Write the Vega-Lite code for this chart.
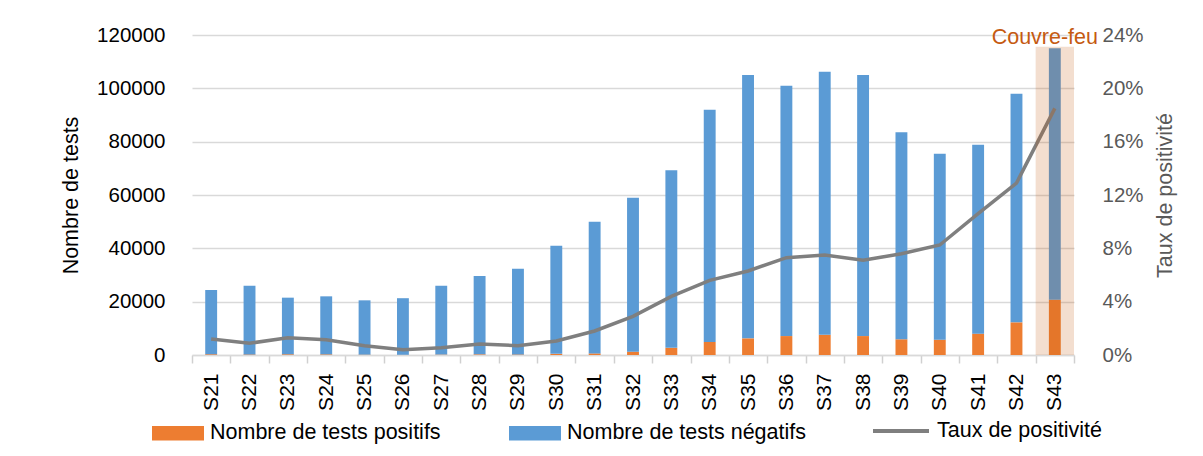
{
  "$schema": "https://vega.github.io/schema/vega-lite/v6.json",
  "autosize": {"type": "none"},
  "width": 882,
  "height": 320,
  "padding": {"left": 192, "top": 35, "right": 129, "bottom": 101},
  "background": "white",
  "config": {
    "view": {"stroke": null},
    "font": "Liberation Sans",
    "axis": {"labelFont": "Liberation Sans", "titleFont": "Liberation Sans", "titleFontWeight": "normal"},
    "legend": {"labelFont": "Liberation Sans"}
  },
  "datasets": {
    "tests": [
      {"semaine": "S21", "serie": "Nombre de tests positifs", "n": 290},
      {"semaine": "S21", "serie": "Nombre de tests négatifs", "n": 24110},
      {"semaine": "S22", "serie": "Nombre de tests positifs", "n": 230},
      {"semaine": "S22", "serie": "Nombre de tests négatifs", "n": 25770},
      {"semaine": "S23", "serie": "Nombre de tests positifs", "n": 280},
      {"semaine": "S23", "serie": "Nombre de tests négatifs", "n": 21220},
      {"semaine": "S24", "serie": "Nombre de tests positifs", "n": 250},
      {"semaine": "S24", "serie": "Nombre de tests négatifs", "n": 21750},
      {"semaine": "S25", "serie": "Nombre de tests positifs", "n": 145},
      {"semaine": "S25", "serie": "Nombre de tests négatifs", "n": 20355},
      {"semaine": "S26", "serie": "Nombre de tests positifs", "n": 85},
      {"semaine": "S26", "serie": "Nombre de tests négatifs", "n": 21215},
      {"semaine": "S27", "serie": "Nombre de tests positifs", "n": 145},
      {"semaine": "S27", "serie": "Nombre de tests négatifs", "n": 25855},
      {"semaine": "S28", "serie": "Nombre de tests positifs", "n": 245},
      {"semaine": "S28", "serie": "Nombre de tests négatifs", "n": 29355},
      {"semaine": "S29", "serie": "Nombre de tests positifs", "n": 225},
      {"semaine": "S29", "serie": "Nombre de tests négatifs", "n": 32075},
      {"semaine": "S30", "serie": "Nombre de tests positifs", "n": 430},
      {"semaine": "S30", "serie": "Nombre de tests négatifs", "n": 40570},
      {"semaine": "S31", "serie": "Nombre de tests positifs", "n": 600},
      {"semaine": "S31", "serie": "Nombre de tests négatifs", "n": 49400},
      {"semaine": "S32", "serie": "Nombre de tests positifs", "n": 1250},
      {"semaine": "S32", "serie": "Nombre de tests négatifs", "n": 57750},
      {"semaine": "S33", "serie": "Nombre de tests positifs", "n": 2700},
      {"semaine": "S33", "serie": "Nombre de tests négatifs", "n": 66600},
      {"semaine": "S34", "serie": "Nombre de tests positifs", "n": 4900},
      {"semaine": "S34", "serie": "Nombre de tests négatifs", "n": 87100},
      {"semaine": "S35", "serie": "Nombre de tests positifs", "n": 6250},
      {"semaine": "S35", "serie": "Nombre de tests négatifs", "n": 98750},
      {"semaine": "S36", "serie": "Nombre de tests positifs", "n": 7100},
      {"semaine": "S36", "serie": "Nombre de tests négatifs", "n": 93900},
      {"semaine": "S37", "serie": "Nombre de tests positifs", "n": 7600},
      {"semaine": "S37", "serie": "Nombre de tests négatifs", "n": 98600},
      {"semaine": "S38", "serie": "Nombre de tests positifs", "n": 7100},
      {"semaine": "S38", "serie": "Nombre de tests négatifs", "n": 97900},
      {"semaine": "S39", "serie": "Nombre de tests positifs", "n": 5900},
      {"semaine": "S39", "serie": "Nombre de tests négatifs", "n": 77600},
      {"semaine": "S40", "serie": "Nombre de tests positifs", "n": 5750},
      {"semaine": "S40", "serie": "Nombre de tests négatifs", "n": 69750},
      {"semaine": "S41", "serie": "Nombre de tests positifs", "n": 8000},
      {"semaine": "S41", "serie": "Nombre de tests négatifs", "n": 70800},
      {"semaine": "S42", "serie": "Nombre de tests positifs", "n": 12250},
      {"semaine": "S42", "serie": "Nombre de tests négatifs", "n": 85750},
      {"semaine": "S43", "serie": "Nombre de tests positifs", "n": 20750},
      {"semaine": "S43", "serie": "Nombre de tests négatifs", "n": 94250}
    ],
    "taux": [
      {"semaine": "S21", "serie": "Taux de positivité", "taux": 0.012},
      {"semaine": "S22", "serie": "Taux de positivité", "taux": 0.0088},
      {"semaine": "S23", "serie": "Taux de positivité", "taux": 0.013},
      {"semaine": "S24", "serie": "Taux de positivité", "taux": 0.0115},
      {"semaine": "S25", "serie": "Taux de positivité", "taux": 0.007},
      {"semaine": "S26", "serie": "Taux de positivité", "taux": 0.004},
      {"semaine": "S27", "serie": "Taux de positivité", "taux": 0.0055},
      {"semaine": "S28", "serie": "Taux de positivité", "taux": 0.0083},
      {"semaine": "S29", "serie": "Taux de positivité", "taux": 0.007},
      {"semaine": "S30", "serie": "Taux de positivité", "taux": 0.0105},
      {"semaine": "S31", "serie": "Taux de positivité", "taux": 0.018},
      {"semaine": "S32", "serie": "Taux de positivité", "taux": 0.029},
      {"semaine": "S33", "serie": "Taux de positivité", "taux": 0.044},
      {"semaine": "S34", "serie": "Taux de positivité", "taux": 0.056},
      {"semaine": "S35", "serie": "Taux de positivité", "taux": 0.063},
      {"semaine": "S36", "serie": "Taux de positivité", "taux": 0.073},
      {"semaine": "S37", "serie": "Taux de positivité", "taux": 0.075},
      {"semaine": "S38", "serie": "Taux de positivité", "taux": 0.071},
      {"semaine": "S39", "serie": "Taux de positivité", "taux": 0.076},
      {"semaine": "S40", "serie": "Taux de positivité", "taux": 0.0825},
      {"semaine": "S41", "serie": "Taux de positivité", "taux": 0.106},
      {"semaine": "S42", "serie": "Taux de positivité", "taux": 0.129},
      {"semaine": "S43", "serie": "Taux de positivité", "taux": 0.185}
    ],
    "couvrefeu": [
      {"semaine": "S43", "debut": 0, "fin": 115600, "texte": 118900, "label": "Couvre-feu"}
    ]
  },
  "encoding": {
    "x": {
      "field": "semaine",
      "type": "nominal",
      "sort": "ascending",
      "scale": {"paddingInner": 0, "paddingOuter": 0},
      "axis": {
        "title": null,
        "tickBand": "extent",
        "labelAngle": -90,
        "labelFontSize": 21,
        "labelColor": "#000000",
        "labelPadding": 10,
        "ticks": true,
        "tickSize": 8,
        "tickColor": "#D0D0D0",
        "tickWidth": 1.5,
        "domainColor": "#D9D9D9",
        "domainWidth": 1.5,
        "grid": false
      }
    }
  },
  "layer": [
    {
      "data": {"name": "tests"},
      "mark": {"type": "bar", "width": {"band": 0.31}},
      "encoding": {
        "y": {
          "field": "n",
          "type": "quantitative",
          "stack": "zero",
          "scale": {"domain": [0, 120000], "nice": false},
          "axis": {
            "title": "Nombre de tests",
            "titleFontSize": 21.5,
            "titleColor": "#000000",
            "titlePadding": 14,
            "values": [0, 20000, 40000, 60000, 80000, 100000, 120000],
            "format": "d",
            "labelFontSize": 20.5,
            "labelColor": "#000000",
            "labelPadding": 27,
            "ticks": false,
            "domain": false,
            "grid": true,
            "gridColor": "#D9D9D9",
            "gridWidth": 1.5
          }
        },
        "color": {
          "field": "serie",
          "type": "nominal",
          "sort": ["Nombre de tests positifs", "Nombre de tests négatifs"],
          "scale": {"domain": ["Nombre de tests positifs", "Nombre de tests négatifs"], "range": ["#ED7D31", "#5B9BD5"]},
          "legend": {
            "title": null,
            "orient": "none",
            "direction": "horizontal",
            "legendX": -40,
            "legendY": 372,
            "padding": 0,
            "symbolType": "M-1,-0.275H1V0.275H-1Z",
            "symbolSize": 2704,
            "symbolStrokeWidth": 0,
            "symbolOpacity": 1,
            "labelFontSize": 21.5,
            "labelLimit": 500,
            "labelColor": "#000000",
            "labelOffset": 6,
            "columnPadding": 68
          }
        }
      }
    },
    {
      "data": {"name": "taux"},
      "mark": {"type": "line", "strokeWidth": 3.5},
      "encoding": {
        "y": {
          "field": "taux",
          "type": "quantitative",
          "scale": {"domain": [0, 0.24], "nice": false},
          "axis": {
            "orient": "right",
            "title": "Taux de positivité",
            "titleAngle": 270,
            "titleFontSize": 21.5,
            "titleColor": "#595959",
            "titlePadding": 33,
            "values": [0, 0.04, 0.08, 0.12, 0.16, 0.2, 0.24],
            "format": ".0%",
            "labelFontSize": 20.5,
            "labelColor": "#595959",
            "labelPadding": 28,
            "ticks": false,
            "domain": false,
            "grid": false
          }
        },
        "stroke": {
          "field": "serie",
          "type": "nominal",
          "scale": {"domain": ["Taux de positivité"], "range": ["#7F7F7F"]},
          "legend": {
            "title": null,
            "orient": "none",
            "legendX": 679,
            "legendY": 366,
            "padding": 0,
            "symbolType": "stroke",
            "symbolSize": 3136,
            "symbolStrokeWidth": 4,
            "labelFontSize": 21.5,
            "labelLimit": 500,
            "labelColor": "#000000",
            "labelOffset": 6
          }
        }
      }
    },
    {
      "data": {"name": "couvrefeu"},
      "mark": {"type": "bar", "width": {"band": 1}, "color": "#C55A11", "opacity": 0.2},
      "encoding": {
        "y": {"field": "debut", "type": "quantitative", "scale": {"domain": [0, 120000], "nice": false}, "axis": null},
        "y2": {"field": "fin"}
      }
    },
    {
      "data": {"name": "couvrefeu"},
      "mark": {"type": "text", "color": "#C55A11", "fontSize": 21.5, "align": "center", "baseline": "middle", "dx": -10},
      "encoding": {
        "y": {"field": "texte", "type": "quantitative", "scale": {"domain": [0, 120000], "nice": false}, "axis": null},
        "text": {"field": "label"}
      }
    }
  ],
  "resolve": {"scale": {"y": "independent"}}
}
